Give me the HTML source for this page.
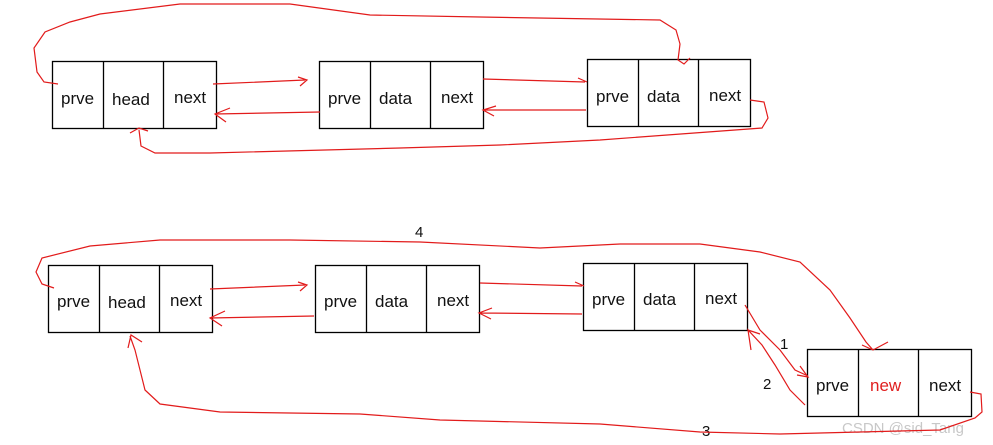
<!DOCTYPE html>
<html><head><style>
html,body{margin:0;padding:0;background:#fff;}
svg{display:block;}
text{font-family:"Liberation Sans",sans-serif;font-size:17px;fill:#111;}
</style></head><body>
<svg width="993" height="445" viewBox="0 0 993 445">
<g fill="none" stroke="#000" stroke-width="1.3">
<rect x="52.5" y="61.5" width="164" height="67"/><line x1="103.5" y1="61" x2="103.5" y2="128"/><line x1="163.5" y1="61" x2="163.5" y2="128"/>
<rect x="319.5" y="61.5" width="164" height="67"/><line x1="370.5" y1="61" x2="370.5" y2="128"/><line x1="430.5" y1="61" x2="430.5" y2="128"/>
<rect x="587.5" y="59.5" width="163" height="67"/><line x1="638.5" y1="59" x2="638.5" y2="126"/><line x1="698.5" y1="59" x2="698.5" y2="126"/>
<rect x="48.5" y="265.5" width="164" height="67"/><line x1="99.5" y1="265" x2="99.5" y2="332"/><line x1="159.5" y1="265" x2="159.5" y2="332"/>
<rect x="315.5" y="265.5" width="164" height="67"/><line x1="366.5" y1="265" x2="366.5" y2="332"/><line x1="426.5" y1="265" x2="426.5" y2="332"/>
<rect x="583.5" y="263.5" width="164" height="67"/><line x1="634.5" y1="263" x2="634.5" y2="330"/><line x1="694.5" y1="263" x2="694.5" y2="330"/>
<rect x="807.5" y="349.5" width="164" height="67"/><line x1="858.5" y1="349" x2="858.5" y2="416"/><line x1="918.5" y1="349" x2="918.5" y2="416"/>
</g>
<text x="61" y="104">prve</text><text x="112" y="105">head</text><text x="174" y="103">next</text>
<text x="328" y="104">prve</text><text x="379" y="104">data</text><text x="441" y="103">next</text>
<text x="596" y="102">prve</text><text x="647" y="102">data</text><text x="709" y="101">next</text>
<text x="57" y="307">prve</text><text x="108" y="308">head</text><text x="170" y="306">next</text>
<text x="324" y="307">prve</text><text x="375" y="307">data</text><text x="437" y="306">next</text>
<text x="592" y="305">prve</text><text x="643" y="305">data</text><text x="705" y="304">next</text>
<text x="816" y="391">prve</text><text x="870" y="391" style="fill:#e02020">new</text><text x="929" y="391">next</text>
<text x="415" y="237" style="font-size:15px">4</text>
<text x="780" y="349" style="font-size:15px">1</text>
<text x="763" y="389" style="font-size:15px">2</text>
<text x="702" y="436" style="font-size:15px">3</text>
<text x="842" y="433" style="font-size:15px;fill:#c8c8c8">CSDN @sid_Tang</text>
<g fill="none" stroke="#e21b1b" stroke-width="1.2">
<path d="M58 84 L44 82 L37 72 L34 48 L45 32 L70 22 L100 14 L180 4 L290 4 L370 15 L480 17 L660 20 L676 30 L680 44 L678 60 L684 64 L690 58"/>
<path d="M213 84 L305 80 M298 77 L307 80 L300 86"/>
<path d="M320 112 L215 114 M230 108 L215 114 L226 122"/>
<path d="M483 79 L585 82 M578 78 L587 82"/>
<path d="M586 110 L485 110 M496 106 L483 110 L494 116"/>
<path d="M750 100 L764 102 L768 118 L762 128 L600 140 L500 145 L400 148 L210 153 L155 153 L141 146 L139 130 M130 133 L139 128 L148 131"/>
<path d="M54 288 L42 284 L36 272 L42 258 L90 246 L160 240 L290 240 L420 242 L540 248 L620 244 L700 244 L760 252 L800 262 L830 290 L850 318 L866 342 L873 350 M862 345 L873 350 L888 342"/>
<path d="M210 289 L305 285 M298 282 L307 285 L300 291"/>
<path d="M314 316 L210 318 M225 311 L210 318 L222 326"/>
<path d="M480 283 L582 286 M575 282 L584 286"/>
<path d="M582 314 L480 313 M492 308 L479 313 L491 319"/>
<path d="M745 305 L760 330 L780 350 L795 370 L808 376 M800 366 L808 377 L797 375"/>
<path d="M805 405 L790 390 L775 365 L762 345 L748 330 L751 350 M748 330 L760 334"/>
<path d="M970 392 L981 394 L982 412 L975 418 L940 430 L780 434 L700 432 L600 424 L440 420 L360 414 L220 412 L160 404 L145 390 L135 350 L130 336 M128 348 L131 335 L142 342"/>
</g>
</svg>
</body></html>
